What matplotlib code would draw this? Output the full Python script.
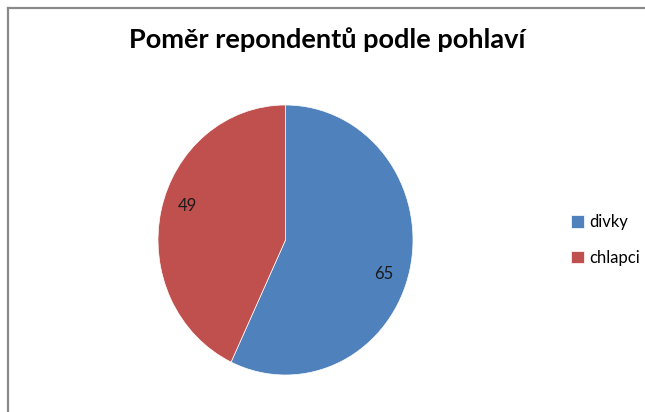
import matplotlib
matplotlib.use("Agg")
import matplotlib.pyplot as plt
from matplotlib.lines import Line2D
import numpy as np

plt.rcParams['font.family'] = ['Lato', 'DejaVu Sans']

# data
categories = ['divky', 'chlapci']
values = [65, 49]
colors = ['#4F81BD', '#C0504D']
title = 'Poměr repondentů podle pohlaví'

W, H = 645, 412
fig = plt.figure(figsize=(W / 100, H / 100), dpi=100)

# grey frame (only top and left edges are visible in the crop)
fig.add_artist(Line2D([8 / W, 1], [1 - 7.5 / H, 1 - 7.5 / H], transform=fig.transFigure,
                      color='#8a8a8a', lw=1.6))
fig.add_artist(Line2D([8 / W, 8 / W], [0, 1 - 7.5 / H], transform=fig.transFigure,
                      color='#8a8a8a', lw=1.6))

# pie is slightly taller than wide in the original
ax = fig.add_axes([158 / W, 37 / H, 255 / W, 270 / H])
total = sum(values)
wedges, texts, autotexts = ax.pie(values, colors=colors, startangle=90, counterclock=False,
                                  radius=1, autopct=lambda p: f'{round(p * total / 100)}',
                                  pctdistance=0.8,
                                  wedgeprops=dict(edgecolor='white', linewidth=0.5),
                                  textprops=dict(fontsize=12, color='#1a1a1a'))
ax.set_aspect('auto')
ax.set_xlim(-1, 1)
ax.set_ylim(-1, 1)

# excel puts the value labels a little clockwise of the slice middle
for w, t in zip(wedges, autotexts):
    mid = np.deg2rad((w.theta1 + w.theta2) / 2 - 5.5)
    t.set_position((0.81 * np.cos(mid), 0.81 * np.sin(mid)))

fig.text(327 / W, 1 - 40 / H, title, ha='center', va='center', fontsize=19.5,
         fontweight='bold')

fig.legend(wedges, categories, loc='center left', bbox_to_anchor=(556 / W, 1 - 240 / H),
           frameon=False, fontsize=12, handlelength=0.75, handleheight=0.75,
           handletextpad=0.35, labelspacing=1.15)

fig.savefig('out.png', dpi=100)
